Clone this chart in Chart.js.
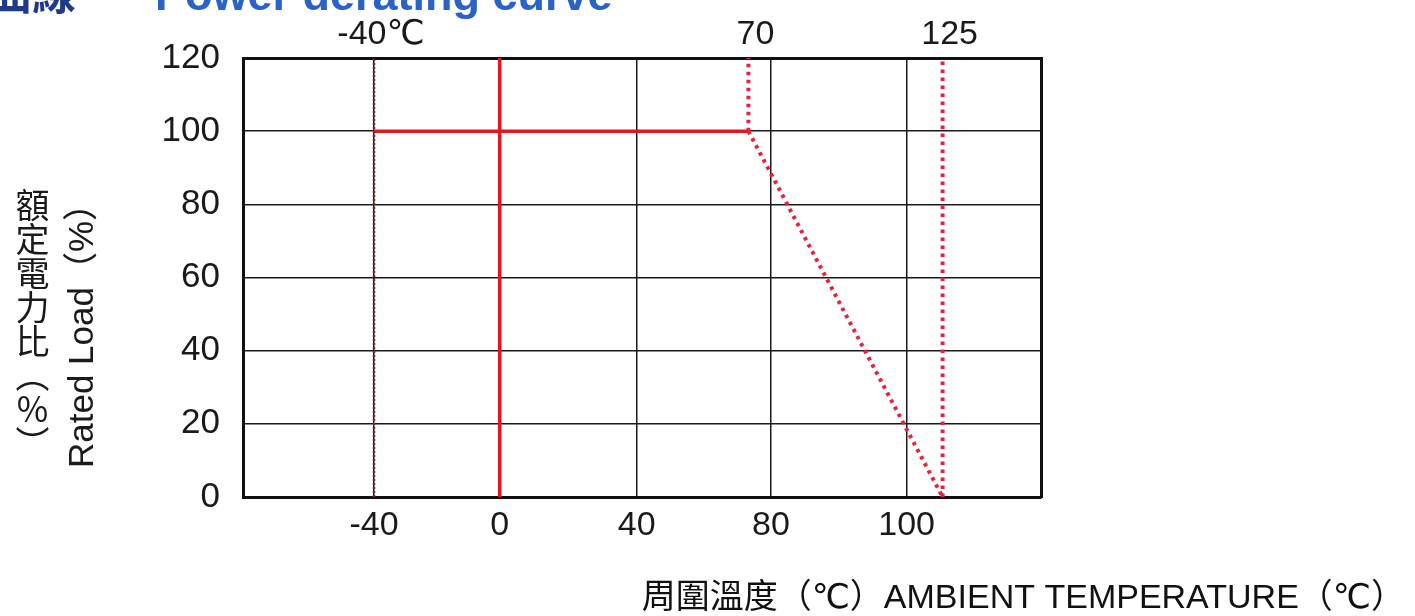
<!DOCTYPE html>
<html><head><meta charset="utf-8">
<script src="https://cdn.jsdelivr.net/npm/chart.js@4.4.1/dist/chart.umd.min.js"></script>
<style>
html,body{margin:0;padding:0;background:#fff;overflow:hidden}
#wrap{position:relative;width:1415px;height:616px;overflow:hidden;background:#fff}
#c{position:absolute;left:0;top:0}
#tCjk{position:absolute;left:-12px;top:-31px;font:bold 44px/44px "Noto Sans CJK TC";color:#1f3a8a;white-space:nowrap}
#tEn{position:absolute;left:155px;top:-27px;font:bold 45px/44px "Liberation Sans";color:#2a62c6;white-space:nowrap}
#yCjk{position:absolute;left:15px;top:188px;writing-mode:vertical-rl;font:34px/34px "Noto Sans CJK TC";color:#1a1a1a;white-space:nowrap}
#yEn{position:absolute;left:80px;top:327px;transform:translate(-50%,-50%) rotate(-90deg);white-space:nowrap;font:35px/35px "Liberation Sans","Noto Sans CJK TC";color:#1a1a1a}
</style></head>
<body>
<div id="wrap">
<canvas id="c" width="1415" height="616"></canvas>
<div id="tCjk">曲線</div>
<div id="tEn">Power derating curve</div>
<div id="yCjk">額定電力比（％）</div>
<div id="yEn">Rated Load（%）</div>
</div>
<script>
// Bottom axis: schematic temperature scale (grid slots as drawn in the source)
const tempTickLabels = ['-40', '0', '40', '80', '100'];
const tempTickSlots = [0.985, 1.93, 2.96, 3.97, 4.99];
// Top markers: -40℃, 70, 125 and their slot positions on the schematic scale
const markerLabels = ['-40℃', '70', '125'];
const markerSlots = [0.985, 3.8, 5.26];
// Rated load (%) at the three marker temperatures
const ratedLoadPct = [100, 100, 0];
const loadTicks = [0, 20, 40, 60, 80, 100, 120];
const zeroSlot = 1.93;
const loadMin = 0, loadMax = 120;
const slotMin = 0, slotMax = 6;

const FONT = '"Liberation Sans", "DejaVu Sans", "Noto Sans CJK TC"';
const RED = '#e3161f';
const RED_DOT = '#e2253f';
const DARK_DOT = '#8c1c28';
const INK = '#1a1a1a';

function seg(x1, y1, x2, y2) { return [{x: x1, y: y1}, {x: x2, y: y2}]; }

const datasets = [
  {label: 'min', data: seg(markerSlots[0], loadMin, markerSlots[0], loadMax), borderColor: DARK_DOT, borderWidth: 2.5, borderDash: [2, 2]},
  {label: 'zero', data: seg(zeroSlot, loadMin, zeroSlot, loadMax), borderColor: RED, borderWidth: 3.5},
  {label: 'plateau', data: seg(markerSlots[0], ratedLoadPct[0], markerSlots[1], ratedLoadPct[1]), borderColor: RED, borderWidth: 3.5},
  {label: 'knee', data: seg(markerSlots[1], ratedLoadPct[1], markerSlots[1], loadMax), borderColor: RED_DOT, borderWidth: 4, borderDash: [3.5, 4.5]},
  {label: 'derate', data: seg(markerSlots[1], ratedLoadPct[1], markerSlots[2], ratedLoadPct[2]), borderColor: RED_DOT, borderWidth: 4, borderDash: [3.5, 4.5]},
  {label: 'max', data: seg(markerSlots[2], loadMin, markerSlots[2], loadMax), borderColor: RED_DOT, borderWidth: 4, borderDash: [3.5, 4.5]}
].map(d => Object.assign({pointRadius: 0, fill: false, tension: 0, borderCapStyle: 'butt'}, d));

new Chart(document.getElementById('c'), {
  type: 'line',
  data: {datasets},
  options: {
    responsive: false,
    animation: false,
    devicePixelRatio: 1,
    layout: {padding: {right: 10}},
    plugins: {
      legend: {display: false},
      tooltip: {enabled: false},
      title: {
        display: true, position: 'bottom', align: 'end',
        text: '周圍溫度（℃）AMBIENT TEMPERATURE（℃）',
        color: '#111', padding: 0,
        font: {family: FONT, size: 34, weight: 'normal', lineHeight: 1}
      }
    },
    scales: {
      x: {
        type: 'linear', position: 'bottom', min: slotMin, max: slotMax,
        afterBuildTicks: s => { s.ticks = tempTickSlots.map(v => ({value: v})); },
        afterFit: s => { s.height = 85; },
        ticks: {callback: (v, i) => tempTickLabels[i], color: INK, padding: 8, maxRotation: 0, autoSkip: false, font: {family: FONT, size: 34}},
        grid: {color: '#1a1a1a', lineWidth: 1.5, drawTicks: false},
        border: {display: true, color: '#111', width: 3}
      },
      x2: {
        type: 'linear', axis: 'x', position: 'top', min: slotMin, max: slotMax,
        afterBuildTicks: s => { s.ticks = markerSlots.map(v => ({value: v})); },
        afterFit: s => { s.height = 58; },
        ticks: {callback: (v, i) => markerLabels[i], color: INK, padding: 3, labelOffset: 7, maxRotation: 0, autoSkip: false, font: {family: FONT, size: 34}},
        grid: {display: false, drawTicks: false},
        border: {display: true, color: '#111', width: 3}
      },
      y: {
        type: 'linear', position: 'left', min: loadMin, max: loadMax,
        afterBuildTicks: s => { s.ticks = loadTicks.map(v => ({value: v})); },
        afterFit: s => { s.width = 243; },
        ticks: {color: INK, padding: 23, font: {family: FONT, size: 35}},
        grid: {color: '#1a1a1a', lineWidth: 1.5, drawTicks: false},
        border: {display: true, color: '#111', width: 3}
      },
      y2: {
        type: 'linear', axis: 'y', position: 'right', min: loadMin, max: loadMax,
        afterFit: s => { s.width = 364; },
        ticks: {display: false},
        grid: {display: false, drawTicks: false},
        border: {display: true, color: '#111', width: 3}
      }
    }
  }
});
</script>
</body></html>
